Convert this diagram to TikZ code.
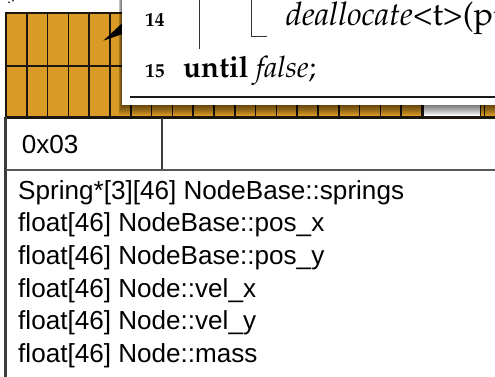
\documentclass[tikz,border=0pt]{standalone}
\usepackage{fontspec}
\setmainfont{Liberation Sans}
\definecolor{cellorange}{RGB}{217,154,38}
\definecolor{gridline}{RGB}{28,22,14}
\definecolor{tableline}{RGB}{60,60,60}
% Palatino for the listing in the pop-up
\newcommand\palfont{\fontencoding{T1}\fontfamily{ppl}\selectfont}
\tikzset{
  memline/.style={anchor=base west, inner sep=0pt, font=\fontsize{26.1}{30}\selectfont},
  codetext/.style={anchor=base west, inner sep=0pt, font=\palfont\fontsize{29.5}{32}\selectfont},
  calltext/.style={anchor=base west, inner sep=0pt, font=\palfont\fontsize{32.5}{34}\selectfont},
  lineno/.style={anchor=base west, inner sep=0pt, font=\palfont\fontsize{19.5}{22}\selectfont\bfseries},
  cellrule/.style={draw=gridline, line width=1.7pt},
}
\begin{document}
\begin{tikzpicture}[x=1pt,y=-1pt]
\useasboundingbox (0,0) rectangle (495,376);
\clip (0,0) rectangle (495,376);

% stray marks at the top-left corner
\fill[black] (9,2.2) circle (0.9);
\fill[black] (13,0.8) circle (0.9);

% memory cells: two rows of slots
\fill[cellorange] (6,13) rectangle (520,117.5);
\foreach \i in {1,...,24}
  \draw[cellrule] ({6+20.8*\i},13) -- ({6+20.8*\i},117.5);
\draw[cellrule] (6,65.7) -- (520,65.7);
\fill[white] (423,65.7) rectangle (480.5,117.5);
\draw[cellrule] (423,65.7) rectangle (480.5,117.5);
\draw[gridline, line width=2.4pt] (520,13) -- (6,13) -- (6,117.5) -- (520,117.5);

% pointer tip coming out of the pop-up
\fill[black] (103.3,40.7) -- (124,21.5) -- (124,33.5) -- cycle;

% soft shadow under the pop-up
\foreach \k in {1,...,10}
  \fill[black, opacity=0.065] ({121.5-0.3*\k},-5) rectangle (520,{105+\k});

% pop-up with the code listing
\fill[white] (121.5,-5) rectangle (520,105);
\draw[black!80, line width=0.9pt] (199.3,-5) -- (199.3,49);
\draw[black!80, line width=0.9pt] (251.7,-5) -- (251.7,36) -- (266.7,36);
\node[lineno] (l14) at (145,26) {14};
\node[calltext] (dealloc) at (285.7,25) {\itshape deallocate\upshape\textless t\textgreater(ptr);};
\node[lineno] (l15) at (145,77.3) {15};
\node[codetext] (until) at (183,77.3) {\textbf{until} \textit{false};};
\draw[black!90, line width=1.8pt] (130,96.7) -- (520,96.7);

% table below the cells
\draw[tableline, line width=2.5pt] (5.5,117) -- (5.5,380);
\draw[tableline, line width=2pt] (162,117.5) -- (162,170);
\draw[tableline!85!white, line width=2.5pt] (5.5,170) -- (520,170);
\node[memline] (hdr) at (21.7,153.3) {0x03};

\node[memline] (f1) at (18,199) {Spring*[3][46] NodeBase::springs};
\node[memline] (f2) at (18,231.7) {float[46] NodeBase::pos\_x};
\node[memline] (f3) at (18,264.4) {float[46] NodeBase::pos\_y};
\node[memline] (f4) at (18,297.1) {float[46] Node::vel\_x};
\node[memline] (f5) at (18,329.8) {float[46] Node::vel\_y};
\node[memline] (f6) at (18,362.5) {float[46] Node::mass};
\end{tikzpicture}
\end{document}
